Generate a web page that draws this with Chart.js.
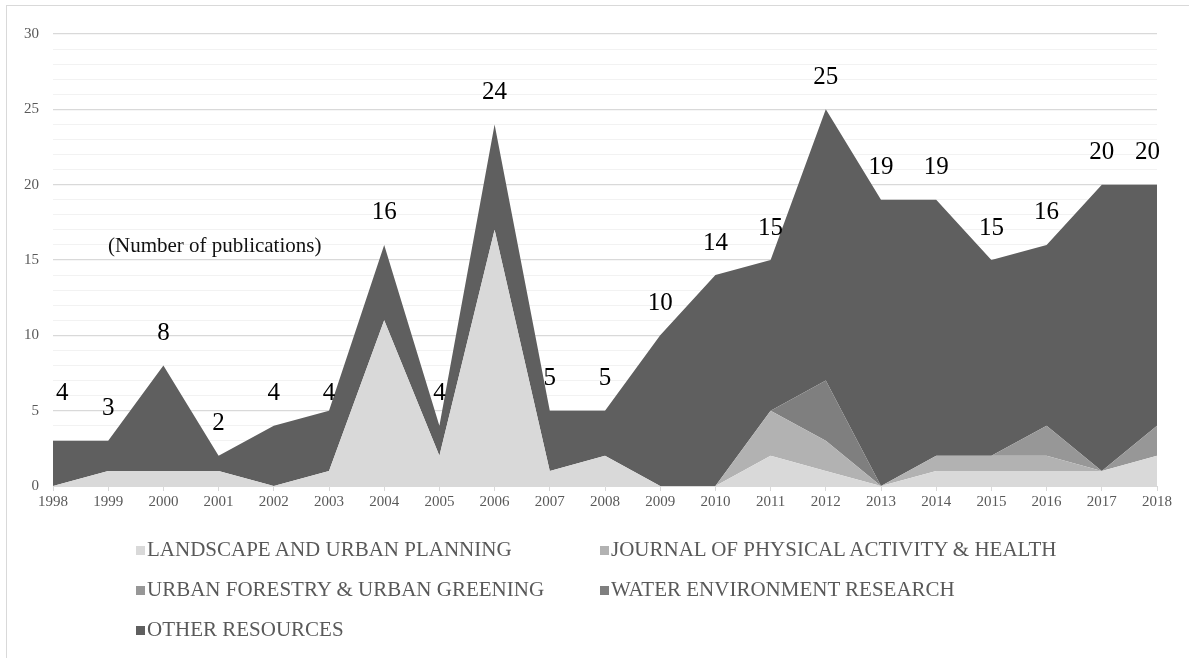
<!DOCTYPE html>
<html>
<head>
<meta charset="utf-8">
<title>Number of publications</title>
<script src="https://cdn.jsdelivr.net/npm/chart.js@4.4.1/dist/chart.umd.min.js"></script>
<style>
  html, body { margin: 0; padding: 0; background: #fff; }
  #frame {
    position: absolute; left: 6px; top: 5px; width: 1200px; height: 700px;
    border-left: 1px solid #d9d9d9; border-top: 1px solid #d9d9d9;
  }
  #wrap { position: absolute; left: 0; top: 0; width: 1189px; height: 658px; }
  #legend {
    position: absolute; left: 136px; top: 529px;
    display: grid; grid-template-columns: 464px 500px;
    font-family: 'Liberation Serif', 'Times New Roman', serif;
    font-size: 21px; color: #595959; line-height: 40px;
  }
  .legend-item { white-space: nowrap; }
  .legend-box { display: inline-block; width: 9px; height: 9px; margin-right: 2px; vertical-align: 1px; }
</style>
</head>
<body>
<div id="frame"></div>
<div id="wrap"><canvas id="chart-publications"></canvas></div>
<div id="legend"></div>

<script>
// Years on the x axis
const years = ['1998', '1999', '2000', '2001', '2002', '2003', '2004', '2005', '2006', '2007',
  '2008', '2009', '2010', '2011', '2012', '2013', '2014', '2015', '2016', '2017', '2018'];

// Stacked series (publications per journal)
const landscape = [0, 1, 1, 1, 0, 1, 11, 2, 17, 1, 2, 0, 0, 2, 1, 0, 1, 1, 1, 1, 2];
const physicalActivity = [0, 0, 0, 0, 0, 0, 0, 0, 0, 0, 0, 0, 0, 3, 2, 0, 1, 1, 1, 0, 0];
const urbanForestry = [0, 0, 0, 0, 0, 0, 0, 0, 0, 0, 0, 0, 0, 0, 0, 0, 0, 0, 2, 0, 2];
const waterEnvironment = [0, 0, 0, 0, 0, 0, 0, 0, 0, 0, 0, 0, 0, 0, 4, 0, 0, 0, 0, 0, 0];
const otherResources = [3, 2, 7, 1, 4, 4, 5, 2, 7, 4, 3, 10, 14, 10, 18, 19, 17, 13, 12, 19, 16];

// Totals printed above each year
const totals = [4, 3, 8, 2, 4, 4, 16, 4, 24, 5, 5, 10, 14, 15, 25, 19, 19, 15, 16, 20, 20];

const serif = "'Liberation Serif', 'Times New Roman', serif";

// Draws the total labels and the axis note
const totalLabels = {
  id: 'totalLabels',
  afterDatasetsDraw(chart) {
    const ctx = chart.ctx;
    const x = chart.scales.x;
    const y = chart.scales.y;
    const area = chart.chartArea;
    ctx.save();
    ctx.font = '25px ' + serif;
    ctx.fillStyle = '#000';
    ctx.textAlign = 'center';
    ctx.textBaseline = 'middle';
    totals.forEach((v, i) => {
      const txt = String(v);
      const w = ctx.measureText(txt).width;
      let px = x.getPixelForValue(i);
      px = Math.max(px, area.left + 3 + w / 2);
      px = Math.min(px, area.right + 3 - w / 2);
      ctx.fillText(txt, px, y.getPixelForValue(v) - 32);
    });

    ctx.font = '21px ' + serif;
    ctx.fillStyle = '#111';
    ctx.fillText('(Number of publications)', x.getPixelForValue(2.93), y.getPixelForValue(15.9));
    ctx.restore();
  }
};

const ctx = document.getElementById('chart-publications');
const chart = new Chart(ctx, {
  type: 'line',
  data: {
    labels: years,
    datasets: [
      { label: 'LANDSCAPE AND URBAN PLANNING', data: landscape, backgroundColor: '#d9d9d9', fill: 'origin' },
      { label: 'JOURNAL OF PHYSICAL ACTIVITY & HEALTH', data: physicalActivity, backgroundColor: '#b2b2b2', fill: '-1' },
      { label: 'URBAN FORESTRY & URBAN GREENING', data: urbanForestry, backgroundColor: '#979797', fill: '-1' },
      { label: 'WATER ENVIRONMENT RESEARCH', data: waterEnvironment, backgroundColor: '#7f7f7f', fill: '-1' },
      { label: 'OTHER RESOURCES', data: otherResources, backgroundColor: '#5f5f5f', fill: '-1' }
    ].map(d => Object.assign(d, { borderWidth: 0, pointRadius: 0, pointHoverRadius: 0, tension: 0 }))
  },
  options: {
    responsive: true,
    maintainAspectRatio: false,
    animation: false,
    layout: { padding: { left: 0, right: 32, top: 34, bottom: 142 } },
    plugins: {
      legend: { display: false },
      tooltip: { enabled: false }
    },
    scales: {
      x: {
        offset: false,
        grid: { drawOnChartArea: false, drawTicks: true, tickLength: 5, color: '#d9d9d9' },
        border: { display: true, color: '#d9d9d9' },
        ticks: { color: '#595959', font: { family: serif, size: 15 }, padding: 2, maxRotation: 0, autoSkip: false },
        afterFit(scale) { scale.height = 30; }
      },
      y: {
        stacked: true,
        min: 0,
        max: 30,
        grid: {
          drawTicks: false,
          color: c => (c.tick.value % 5 === 0 ? '#d9d9d9' : '#f2f2f2'),
          lineWidth: c => (c.tick.value % 5 === 0 ? 1.3 : 1)
        },
        border: { display: false },
        ticks: {
          stepSize: 1,
          autoSkip: false,
          padding: 14,
          color: '#595959',
          font: { family: serif, size: 15 },
          callback: v => (v % 5 === 0 ? v : '')
        },
        afterFit(scale) { scale.width = 53; }
      }
    }
  },
  plugins: [totalLabels]
});

// HTML legend built from the chart's datasets, two columns
const legend = document.getElementById('legend');
chart.data.datasets.forEach(ds => {
  const item = document.createElement('div');
  item.className = 'legend-item';
  item.innerHTML = `<span class="legend-box" style="background:${ds.backgroundColor}"></span>${ds.label}`;
  legend.appendChild(item);
});
</script>
</body>
</html>
